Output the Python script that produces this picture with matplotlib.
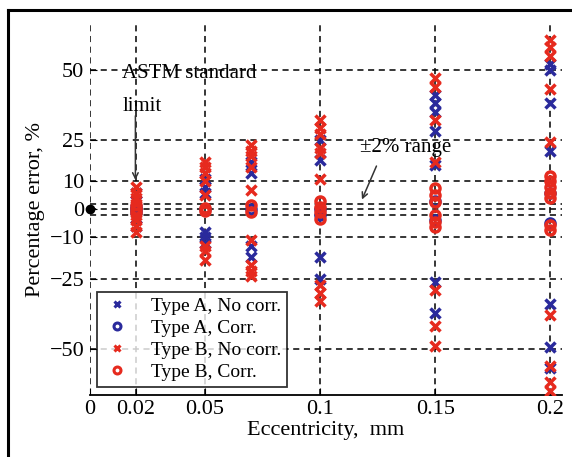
import matplotlib
matplotlib.use("Agg")
import matplotlib.pyplot as plt
from matplotlib.lines import Line2D

plt.rcParams['font.family'] = ['Liberation Serif', 'DejaVu Serif']

# eccentricity grid and tick labels
ecc_ticks = [0, 0.02, 0.05, 0.1, 0.15, 0.2]
ecc_tick_labels = ['0', '0.02', '0.05', '0.1', '0.15', '0.2']
grid_x = [0, 0.02, 0.05, 0.1, 0.15, 0.2]
err_ticks = [-50, -25, -10, 0, 10, 25, 50]
range_lines = [-2, 2]

# Type A, no correction (blue x)
a_nc_x = [0.02]*4 + [0.05]*6 + [0.07]*4 + [0.1]*4 + [0.15]*7 + [0.2]*7
a_nc_y = [6, 3, -3, -6,
          11, 8, 6, -8, -10, -12,
          17, 13, -13, -17,
          25, 17.5, -17, -25,
          41, 38, 35, 28, 16, -26, -37,
          52, 50, 38, 21, -34, -49.5, -57]

# Type A, corrected (blue o)
a_c_x = [0.02]*3 + [0.05] + [0.07] + [0.1]*2 + [0.15]*2 + [0.2]*2
a_c_y = [1, 0, -1, 0, 0, 0, -2, 3, -4, 6, -5]

# Type B, no correction (red x)
b_nc_x = [0.02]*8 + [0.05]*8 + [0.07]*9 + [0.1]*9 + [0.15]*7 + [0.2]*9
b_nc_y = [8, 6, 4, 2, -2, -4, -6, -8,
          17, 15, 13, 10, 5, -13, -15, -18,
          23, 21, 19, 15, 7, -11, -20, -22, -24,
          32, 29, 27, 22, 20, 11, -27, -30, -33,
          47, 44, 32, 17, -29, -42, -49,
          60.5, 58, 55, 43, 24, -38, -56, -65, -62]

# Type B, corrected (red o)
b_c_x = [0.02]*3 + [0.05]*2 + [0.07]*2 + [0.1]*4 + [0.15]*6 + [0.2]*7
b_c_y = [1.5, 0, -1.5,
         0.5, -0.5,
         1.5, -1,
         3, 1, -1, -3.5,
         7.5, 5, 2.5, -2, -4.5, -6.5,
         12, 10, 8, 6, 4, -5.5, -7.5]

blue = '#2a2a9c'
red = '#e62a1e'

fig = plt.figure(figsize=(5.72, 4.57), dpi=100)
ax = fig.add_axes([0.157, 0.136, 0.826, 0.809])

# frame around the whole figure
fig.add_artist(Line2D([8/572, 1.0], [1-10/457, 1-10/457], color='black', lw=2.2, transform=fig.transFigure))
fig.add_artist(Line2D([8/572, 8/572], [0.0, 1-10/457], color='black', lw=2.2, transform=fig.transFigure))

# dashed grid
for gx in grid_x:
    ax.axvline(gx, color='black', ls=(0, (4, 3)), lw=1.1, zorder=1)
for gy in err_ticks + range_lines:
    ax.axhline(gy, color='black', ls=(0, (4, 3)), lw=1.1, zorder=1)

mk = dict(ls='none', ms=6.5, mew=2.5, zorder=3)
ax.plot(a_nc_x, a_nc_y, marker='x', color=blue, label='Type A, No corr.', **mk)
ax.plot(a_c_x, a_c_y, marker='o', color=blue, mfc='none', label='Type A, Corr.', **mk)
ax.plot(b_nc_x, b_nc_y, marker='x', color=red, label='Type B, No corr.', **mk)
ax.plot(b_c_x, b_c_y, marker='o', color=red, mfc='none', label='Type B, Corr.', **mk)

ax.plot([0], [0], marker='o', color='black', ms=6, clip_on=False, zorder=5)

ax.set_xlim(0, 0.2052)
ax.set_ylim(-66.5, 66)
ax.set_xticks(ecc_ticks)
ax.set_xticklabels(ecc_tick_labels)
ax.set_yticks(err_ticks)
ax.set_yticklabels([str(v).replace('-', '\u2212') for v in err_ticks])
ax.tick_params(direction='in', length=5, labelsize=16, colors='black', pad=4)
for s in ['top', 'right', 'left']:
    ax.spines[s].set_visible(False)
ax.spines['bottom'].set_linewidth(1.3)

ax.set_xlabel('Eccentricity,  mm', fontsize=16, labelpad=1)
ax.set_ylabel('Percentage error, %', fontsize=16, labelpad=3)

ax.text(0.0141, 48.5, 'ASTM standard', fontsize=15, ha='left', va='center')
ax.text(0.0141, 37, 'limit', fontsize=15, ha='left', va='center')
ax.annotate('', xy=(0.0198, 10.5), xytext=(0.0198, 33.5),
            arrowprops=dict(arrowstyle='->', color='#333333', lw=1.1,
                            shrinkA=0, shrinkB=0))
ax.text(0.1175, 22, '\u00b12% range', fontsize=15, ha='left', va='center')
ax.annotate('', xy=(0.1182, 3.5), xytext=(0.1245, 15.5),
            arrowprops=dict(arrowstyle='->', color='#333333', lw=1.1,
                            shrinkA=0, shrinkB=0))

leg = ax.legend(loc='lower left', bbox_to_anchor=(0.015, 0.022), borderaxespad=0,
                fontsize=14, frameon=True, fancybox=False, handlelength=1.5,
                handletextpad=1.0, borderpad=0.3, labelspacing=0.22)
leg.get_frame().set_edgecolor('black')
leg.get_frame().set_linewidth(1.3)
leg.set_zorder(6)
for h in leg.legend_handles:
    h.set_markersize(5)
    h.set_markeredgewidth(2.2)

fig.savefig('out.png', dpi=100)
